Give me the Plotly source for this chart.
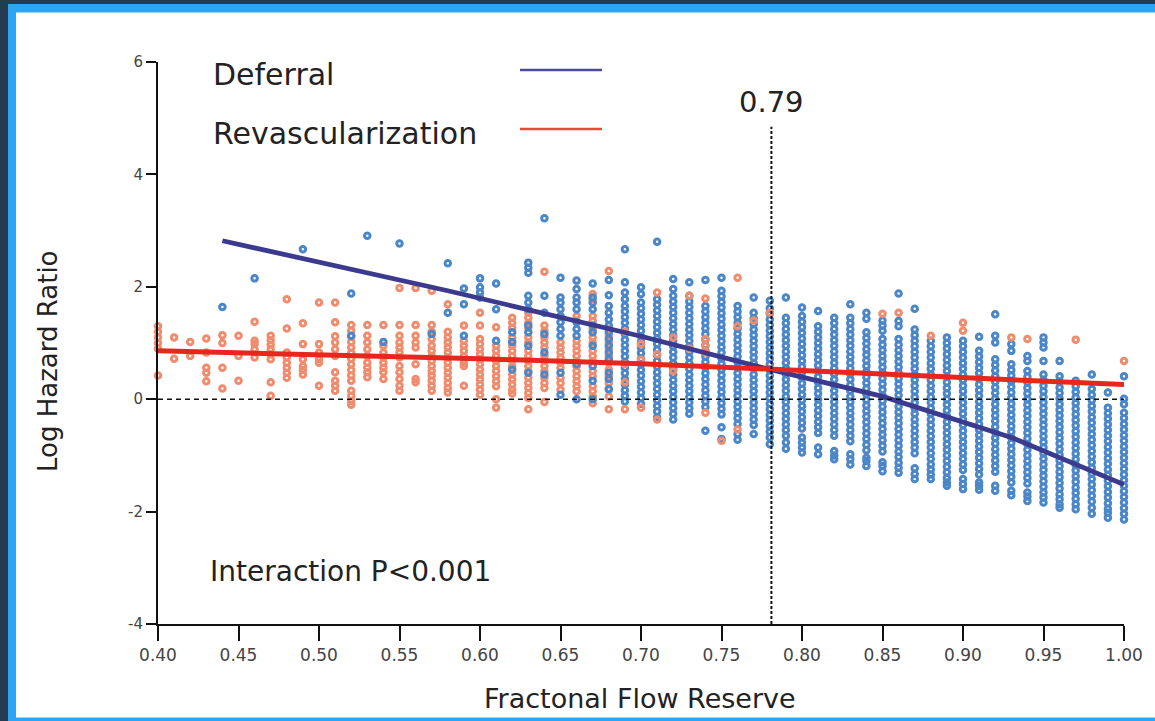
import plotly.graph_objects as go

# ---------------- data ----------------
ffr = [0.40, 0.41, 0.42, 0.43, 0.44, 0.45, 0.46, 0.47, 0.48, 0.49,
       0.50, 0.51, 0.52, 0.53, 0.54, 0.55, 0.56, 0.57, 0.58, 0.59,
       0.60, 0.61, 0.62, 0.63, 0.64, 0.65, 0.66, 0.67, 0.68, 0.69,
       0.70, 0.71, 0.72, 0.73, 0.74, 0.75, 0.76, 0.77, 0.78, 0.79,
       0.80, 0.81, 0.82, 0.83, 0.84, 0.85, 0.86, 0.87, 0.88, 0.89,
       0.90, 0.91, 0.92, 0.93, 0.94, 0.95, 0.96, 0.97, 0.98, 0.99, 1.00]

# Log hazard ratio of each patient, one list per FFR column
deferral_lhr = [
    [], [], [], [], [1.64], [], [2.15], [], [], [2.67],
    [], [], [1.88, 1.13], [2.91], [1.02], [2.77], [], [1.16], [2.42, 1.54], [1.97, 1.69, 1.13],
    [2.15, 1.99, 1.90, 1.81],
    [2.06, 1.60, 1.04],
    [1.19, 1.02, 0.53],
    [2.43, 2.34, 2.25, 1.84, 1.72, 1.60, 1.31, 1.19, 0.95, 0.47],
    [3.22, 1.84, 1.54, 1.16, 0.83, 0.44],
    [2.16, 1.81, 1.72, 1.60, 1.48, 1.37, 1.25, 1.13, 0.47, 0.08],
    [2.11, 1.96, 1.81, 1.72, 1.60, 1.37, 1.25, 1.13, 0.62, 0.00],
    [2.06, 1.81, 1.72, 1.60, 1.31, 1.19, 0.95, 0.59, 0.33, 0.00],
    [2.12, 1.85, 1.66, 1.54, 1.42, 1.31, 1.19, 1.07, 0.95, 0.83, 0.71, 0.47, 0.36, 0.18],
    [2.67, 2.08, 1.90, 1.78, 1.66, 1.56, 1.46, 1.36, 1.26, 1.16, 1.06, 0.96, 0.86, 0.76, 0.66, 0.56,
     0.46, 0.36, 0.26, 0.16, 0.06, -0.04],
    [1.99, 1.87, 1.72, 1.62, 1.52, 1.42, 1.32, 1.22, 1.12, 1.02, 0.92, 0.82, 0.72, 0.62, 0.52, 0.42,
     0.32, 0.22, 0.12, 0.02, -0.08],
    [2.80, 1.78, 1.68, 1.58, 1.48, 1.38, 1.28, 1.18, 1.08, 0.98, 0.88, 0.78, 0.68, 0.58, 0.48, 0.38,
     0.28, 0.18, 0.08, -0.02, -0.12, -0.22, -0.32],
    [2.14, 1.96, 1.84, 1.74, 1.64, 1.54, 1.44, 1.34, 1.24, 1.14, 1.04, 0.94, 0.84, 0.74, 0.64, 0.54,
     0.44, 0.34, 0.24, 0.14, 0.04, -0.06, -0.16, -0.26, -0.36],
    [2.08, 1.84, 1.74, 1.64, 1.54, 1.44, 1.34, 1.24, 1.14, 1.04, 0.94, 0.84, 0.74, 0.64, 0.54, 0.44,
     0.34, 0.24, 0.14, 0.04, -0.06, -0.16, -0.26],
    [2.12, 1.66, 1.56, 1.46, 1.36, 1.26, 1.16, 1.06, 0.96, 0.86, 0.76, 0.66, 0.56, 0.46, 0.36, 0.26,
     0.16, 0.06, -0.04, -0.14, -0.56],
    [2.16, 1.93, 1.83, 1.73, 1.63, 1.53, 1.43, 1.33, 1.23, 1.13, 1.03, 0.93, 0.83, 0.73, 0.63, 0.53,
     0.43, 0.33, 0.23, 0.13, 0.03, -0.07, -0.17, -0.27, -0.50, -0.71],
    [1.66, 1.56, 1.46, 1.36, 1.26, 1.16, 1.06, 0.96, 0.86, 0.76, 0.66, 0.56, 0.46, 0.36, 0.26, 0.16,
     0.06, -0.04, -0.14, -0.24, -0.34, -0.44, -0.62, -0.72],
    [1.81, 1.54, 1.44, 1.34, 1.24, 1.14, 1.04, 0.94, 0.84, 0.74, 0.64, 0.54, 0.44, 0.34, 0.24, 0.14,
     0.04, -0.06, -0.16, -0.26, -0.36, -0.46, -0.62],
    [1.75, 1.62, 1.52, 1.42, 1.32, 1.22, 1.12, 1.02, 0.92, 0.82, 0.72, 0.62, 0.52, 0.42, 0.32, 0.22,
     0.12, 0.02, -0.08, -0.18, -0.28, -0.38, -0.48, -0.58, -0.68, -0.80],
    [1.81, 1.45, 1.35, 1.25, 1.15, 1.05, 0.95, 0.85, 0.75, 0.65, 0.55, 0.45, 0.35, 0.25, 0.15, 0.05,
     -0.05, -0.15, -0.25, -0.35, -0.45, -0.55, -0.65, -0.77, -0.88],
    [1.63, 1.48, 1.38, 1.28, 1.18, 1.08, 0.98, 0.88, 0.78, 0.68, 0.58, 0.48, 0.38, 0.28, 0.18, 0.08,
     -0.02, -0.12, -0.22, -0.32, -0.42, -0.52, -0.68, -0.77, -0.86, -0.95],
    [1.57, 1.30, 1.20, 1.10, 1.00, 0.90, 0.80, 0.70, 0.60, 0.50, 0.40, 0.30, 0.20, 0.10, 0.00, -0.10,
     -0.20, -0.30, -0.40, -0.50, -0.60, -0.86, -0.98],
    [1.45, 1.35, 1.25, 1.15, 1.05, 0.95, 0.85, 0.75, 0.65, 0.55, 0.45, 0.35, 0.25, 0.15, 0.05, -0.05,
     -0.15, -0.25, -0.35, -0.45, -0.55, -0.65, -0.92, -1.00, -1.07],
    [1.69, 1.45, 1.35, 1.25, 1.15, 1.05, 0.95, 0.85, 0.75, 0.65, 0.55, 0.45, 0.35, 0.25, 0.15, 0.05,
     -0.05, -0.15, -0.25, -0.35, -0.45, -0.55, -0.65, -0.75, -0.98, -1.07, -1.16],
    [1.54, 1.43, 1.19, 1.09, 0.99, 0.89, 0.79, 0.69, 0.59, 0.49, 0.39, 0.29, 0.19, 0.09, -0.01, -0.11,
     -0.21, -0.31, -0.41, -0.51, -0.61, -0.71, -0.81, -0.91, -1.04, -1.10, -1.19],
    [1.40, 1.31, 1.22, 1.07, 0.97, 0.87, 0.77, 0.67, 0.57, 0.47, 0.37, 0.27, 0.17, 0.07, -0.03, -0.13,
     -0.23, -0.33, -0.43, -0.53, -0.63, -0.73, -0.83, -0.93, -1.12, -1.19, -1.28],
    [1.88, 1.39, 1.30, 1.07, 0.97, 0.87, 0.77, 0.67, 0.57, 0.47, 0.37, 0.27, 0.17, 0.07, -0.03, -0.13,
     -0.23, -0.33, -0.43, -0.53, -0.63, -0.73, -0.83, -0.93, -1.03, -1.13, -1.22, -1.31],
    [1.61, 1.24, 1.14, 1.04, 0.94, 0.84, 0.74, 0.64, 0.54, 0.44, 0.34, 0.24, 0.14, 0.04, -0.06, -0.16,
     -0.26, -0.36, -0.46, -0.56, -0.66, -0.76, -0.86, -0.96, -1.23, -1.33, -1.42],
    [1.04, 0.94, 0.84, 0.74, 0.64, 0.54, 0.44, 0.34, 0.24, 0.14, 0.04, -0.06, -0.16, -0.26, -0.36, -0.46,
     -0.56, -0.66, -0.76, -0.86, -0.96, -1.06, -1.16, -1.25, -1.34, -1.42],
    [1.10, 1.00, 0.90, 0.80, 0.70, 0.60, 0.50, 0.40, 0.30, 0.20, 0.10, 0.00, -0.10, -0.20, -0.30, -0.40,
     -0.50, -0.60, -0.70, -0.80, -0.90, -1.00, -1.10, -1.20, -1.30, -1.40, -1.48, -1.54],
    [1.04, 0.94, 0.84, 0.74, 0.64, 0.54, 0.44, 0.34, 0.24, 0.14, 0.04, -0.06, -0.16, -0.26, -0.36, -0.46,
     -0.56, -0.66, -0.76, -0.86, -0.96, -1.06, -1.16, -1.26, -1.42, -1.51, -1.60],
    [1.11, 0.86, 0.76, 0.66, 0.56, 0.46, 0.36, 0.26, 0.16, 0.06, -0.04, -0.14, -0.24, -0.34, -0.44, -0.54,
     -0.64, -0.74, -0.84, -0.94, -1.04, -1.14, -1.24, -1.34, -1.48, -1.54, -1.61],
    [1.51, 1.13, 1.01, 0.71, 0.61, 0.51, 0.41, 0.31, 0.21, 0.11, 0.01, -0.09, -0.19, -0.29, -0.39, -0.49,
     -0.59, -0.69, -0.79, -0.89, -0.99, -1.09, -1.19, -1.29, -1.54, -1.63],
    [0.98, 0.86, 0.62, 0.52, 0.42, 0.32, 0.22, 0.12, 0.02, -0.08, -0.18, -0.28, -0.38, -0.48, -0.58, -0.68,
     -0.78, -0.88, -0.98, -1.08, -1.18, -1.28, -1.38, -1.48, -1.63, -1.71],
    [0.77, 0.68, 0.50, 0.40, 0.30, 0.20, 0.10, 0.00, -0.10, -0.20, -0.30, -0.40, -0.50, -0.60, -0.70, -0.80,
     -0.90, -1.00, -1.10, -1.20, -1.30, -1.40, -1.50, -1.66, -1.73, -1.81],
    [1.10, 1.01, 0.92, 0.68, 0.44, 0.34, 0.24, 0.14, 0.04, -0.06, -0.16, -0.26, -0.36, -0.46, -0.56, -0.66,
     -0.76, -0.86, -0.96, -1.06, -1.16, -1.26, -1.36, -1.46, -1.56, -1.66, -1.75, -1.84],
    [0.68, 0.41, 0.31, 0.21, 0.11, 0.01, -0.09, -0.19, -0.29, -0.39, -0.49, -0.59, -0.69, -0.79, -0.89, -0.99,
     -1.09, -1.19, -1.29, -1.39, -1.49, -1.59, -1.69, -1.78, -1.87, -1.93],
    [0.33, 0.23, 0.13, 0.03, -0.07, -0.17, -0.27, -0.37, -0.47, -0.57, -0.67, -0.77, -0.87, -0.97, -1.07, -1.17,
     -1.27, -1.37, -1.47, -1.57, -1.67, -1.77, -1.87, -1.96],
    [0.44, 0.18, 0.08, -0.02, -0.12, -0.22, -0.32, -0.42, -0.52, -0.62, -0.72, -0.82, -0.92, -1.02, -1.12, -1.22,
     -1.32, -1.42, -1.52, -1.62, -1.72, -1.82, -1.93, -2.04],
    [0.12, -0.15, -0.25, -0.35, -0.45, -0.55, -0.65, -0.75, -0.85, -0.95, -1.05, -1.15, -1.25, -1.35, -1.45, -1.55,
     -1.65, -1.75, -1.85, -1.95, -2.02, -2.11],
    [0.41, 0.01, -0.09, -0.24, -0.34, -0.44, -0.54, -0.64, -0.74, -0.84, -0.94, -1.04, -1.14, -1.24, -1.34, -1.44,
     -1.54, -1.64, -1.74, -1.84, -1.94, -2.04, -2.14],
]

revasc_lhr = [
    [1.30, 1.20, 1.10, 1.00, 0.90, 0.42],
    [1.10, 0.72],
    [1.02, 0.77],
    [1.08, 0.83, 0.56, 0.47, 0.32],
    [1.14, 1.00, 0.56, 0.19],
    [1.13, 0.77, 0.33],
    [1.38, 1.04, 0.98, 0.89, 0.74],
    [1.13, 1.05, 0.97, 0.89, 0.80, 0.71, 0.30, 0.06],
    [1.78, 1.26, 0.83, 0.74, 0.65, 0.56, 0.47, 0.38],
    [1.35, 0.98, 0.71, 0.59, 0.52, 0.44],
    [1.72, 0.98, 0.83, 0.71, 0.65, 0.24],
    [1.72, 1.37, 1.12, 1.01, 0.89, 0.77, 0.48, 0.33, 0.24, 0.15],
    [1.32, 1.22, 1.12, 1.02, 0.92, 0.82, 0.72, 0.62, 0.52, 0.42, 0.33, 0.15, 0.06, -0.03, -0.10],
    [1.32, 1.13, 1.01, 0.89, 0.77, 0.65, 0.56, 0.48, 0.39],
    [1.32, 0.95, 0.83, 0.74, 0.65, 0.56, 0.48, 0.36],
    [1.98, 1.32, 1.13, 1.01, 0.92, 0.83, 0.74, 0.59, 0.48, 0.36, 0.24, 0.15],
    [1.98, 1.32, 1.13, 1.01, 0.92, 0.62, 0.36, 0.30],
    [1.93, 1.32, 1.20, 1.07, 0.95, 0.86, 0.77, 0.68, 0.59, 0.50, 0.42, 0.33, 0.24, 0.15],
    [1.69, 1.20, 1.10, 1.01, 0.92, 0.83, 0.74, 0.65, 0.56, 0.47, 0.38, 0.29, 0.20, 0.12],
    [1.31, 1.04, 0.95, 0.86, 0.77, 0.65, 0.59, 0.24],
    [1.54, 1.31, 1.07, 0.98, 0.89, 0.80, 0.71, 0.62, 0.53, 0.44, 0.35, 0.26, 0.17, 0.08],
    [1.28, 0.95, 0.86, 0.77, 0.68, 0.59, 0.50, 0.41, 0.32, 0.23, 0.00, -0.15],
    [1.45, 1.36, 1.27, 1.10, 0.95, 0.86, 0.77, 0.68, 0.59, 0.44, 0.35, 0.26, 0.17, 0.10],
    [1.54, 1.45, 1.36, 1.27, 1.10, 1.01, 0.86, 0.77, 0.68, 0.59, 0.50, 0.38, 0.29, 0.20, 0.11, 0.02, -0.18],
    [2.27, 1.31, 1.22, 1.10, 1.01, 0.92, 0.77, 0.68, 0.59, 0.50, 0.38, 0.29, 0.20, -0.05],
    [1.01, 0.92, 0.83, 0.74, 0.65, 0.56, 0.38, 0.29, 0.17],
    [1.48, 1.40, 1.04, 0.95, 0.86, 0.77, 0.68, 0.59, 0.50, 0.41, 0.32, 0.23, 0.14],
    [1.87, 1.78, 1.48, 1.39, 1.25, 1.10, 1.01, 0.86, 0.77, 0.68, 0.50, 0.41, 0.23, 0.14, 0.05, -0.07],
    [2.28, 1.25, 1.13, 1.01, 0.89, 0.77, 0.65, 0.53, 0.41, 0.29, 0.17, 0.05, -0.18],
    [1.20, 0.62, 0.30, -0.18],
    [0.98, 0.70, -0.15],
    [1.90, 0.80, -0.36],
    [1.10, 0.50],
    [1.84, 0.90],
    [1.79, 1.07, 0.95, 0.83, -0.24],
    [-0.74],
    [2.16, 1.30, -0.54],
    [1.40],
    [1.54],
    [], [], [], [], [], [],
    [1.52], [1.54], [], [1.13], [],
    [1.36, 1.22], [], [], [1.10], [1.07], [], [], [1.06], [], [], [0.68],
]

# fitted curves (log hazard ratio vs FFR)
deferral_fit_x = [0.44, 0.58, 0.70, 0.78, 0.85, 0.93, 1.00]
deferral_fit_y = [2.82, 1.93, 1.12, 0.53, 0.05, -0.68, -1.52]
revasc_fit_x = [0.40, 0.50, 0.60, 0.70, 0.78, 0.85, 0.92, 1.00]
revasc_fit_y = [0.86, 0.80, 0.72, 0.63, 0.54, 0.45, 0.36, 0.26]

cutoff_ffr = 0.781
cutoff_label = "0.79"

x_tick_vals = [0.40, 0.45, 0.50, 0.55, 0.60, 0.65, 0.70, 0.75, 0.80, 0.85, 0.90, 0.95, 1.00]
x_tick_text = ["0.40", "0.45", "0.50", "0.55", "0.60", "0.65", "0.70", "0.75", "0.80",
               "0.85", "0.90", "0.95", "1.00"]
y_tick_vals = [-4, -2, 0, 2, 4, 6]
y_tick_text = ["-4", "-2", "0", "2", "4", "6"]

# ---------------- build ----------------
BLUE_PT = "#4a86c8"
ORANGE_PT = "#f08c6e"
BLUE_LINE = "#3b3a8e"
RED_LINE = "#e8261e"
NAVY_BG = "#263a52"
FONT = "DejaVu Sans"


def flatten(cols, lists, keep):
    xs, ys = [], []
    for xv, vals in zip(cols, lists):
        if keep(xv):
            for v in vals:
                xs.append(xv)
                ys.append(v)
    return xs, ys


def pts(xs, ys, color, name):
    return go.Scatter(
        x=xs, y=ys, mode="markers", name=name, showlegend=False, cliponaxis=False,
        marker=dict(symbol="circle-open", size=5.5, color=color, line=dict(width=3, color=color)),
        hoverinfo="skip",
    )


fig = go.Figure()
bx_r, by_r = flatten(ffr, deferral_lhr, lambda v: v >= 0.685)
bx_l, by_l = flatten(ffr, deferral_lhr, lambda v: v < 0.685)
ox, oy = flatten(ffr, revasc_lhr, lambda v: True)

fig.add_trace(pts(bx_r, by_r, BLUE_PT, "Deferral"))
fig.add_trace(pts(ox, oy, ORANGE_PT, "Revascularization"))
fig.add_trace(pts(bx_l, by_l, BLUE_PT, "Deferral"))

fig.add_trace(go.Scatter(x=deferral_fit_x, y=deferral_fit_y, mode="lines", showlegend=False,
                         line=dict(color=BLUE_LINE, width=4.8), hoverinfo="skip"))
fig.add_trace(go.Scatter(x=revasc_fit_x, y=revasc_fit_y, mode="lines", showlegend=False,
                         line=dict(color=RED_LINE, width=5), hoverinfo="skip"))

# plot area occupies px 158..1124 horizontally, 62..624 vertically
L, R, T, B = 158, 31, 62, 97
W, H = 1155, 721
PW, PH = W - L - R, H - T - B


def px(xp):
    return (xp - L) / PW


def py(yp):
    return (H - B - yp) / PH


shapes = [
    # slide frame
    dict(type="rect", xref="paper", yref="paper", x0=px(8), x1=px(1175), y0=py(740), y1=py(4),
         fillcolor="#2ea4f4", line=dict(width=0), layer="below"),
    dict(type="rect", xref="paper", yref="paper", x0=px(16), x1=px(1175), y0=py(717.5), y1=py(12.5),
         fillcolor="white", line=dict(width=0), layer="below"),
    # reference lines
    dict(type="line", xref="x", yref="y", x0=0.40, x1=1.00, y0=0, y1=0,
         line=dict(color="#111111", width=1.6, dash="5px,4px"), layer="above"),
    dict(type="line", xref="x", yref="y", x0=cutoff_ffr, x1=cutoff_ffr, y0=-4, y1=4.85,
         line=dict(color="#111111", width=2, dash="3px,2px"), layer="above"),
    # legend swatches
    dict(type="line", xref="paper", yref="paper", x0=px(520), x1=px(602), y0=py(70), y1=py(70),
         line=dict(color="#4a4a9e", width=2.5)),
    dict(type="line", xref="paper", yref="paper", x0=px(520), x1=px(602), y0=py(129), y1=py(129),
         line=dict(color="#e8493a", width=2.5)),
]

annotations = [
    dict(text="Deferral", xref="paper", yref="paper", x=px(211), y=py(75), xanchor="left",
         yanchor="middle", showarrow=False, font=dict(family=FONT, size=30, color="#222222")),
    dict(text="Revascularization", xref="paper", yref="paper", x=px(211), y=py(133), xanchor="left",
         yanchor="middle", showarrow=False, font=dict(family=FONT, size=30, color="#222222")),
    dict(text=cutoff_label, xref="x", yref="y", x=cutoff_ffr, y=5.28, xanchor="center",
         yanchor="middle", showarrow=False, font=dict(family=FONT, size=29, color="#222222")),
    dict(text="Interaction P<0.001", xref="paper", yref="paper", x=px(208), y=py(571), xanchor="left",
         yanchor="middle", showarrow=False, font=dict(family=FONT, size=28, color="#222222")),
    dict(text="Fractonal Flow Reserve", xref="paper", yref="paper", x=px(640), y=py(698),
         xanchor="center", yanchor="middle", showarrow=False,
         font=dict(family=FONT, size=27, color="#222222")),
    dict(text="Log Hazard Ratio", xref="paper", yref="paper", x=px(48), y=py(361), textangle=-90,
         xanchor="center", yanchor="middle", showarrow=False,
         font=dict(family=FONT, size=26, color="#222222")),
]

fig.update_layout(
    width=W, height=H, autosize=False,
    margin=dict(l=L, r=R, t=T, b=B, pad=0),
    paper_bgcolor=NAVY_BG,
    plot_bgcolor="rgba(0,0,0,0)",
    showlegend=False,
    shapes=shapes,
    annotations=annotations,
    xaxis=dict(range=[0.40, 1.00], tickvals=x_tick_vals, ticktext=x_tick_text,
               showline=True, linecolor="#111111", linewidth=2, mirror=False,
               ticks="outside", ticklen=15, tickwidth=2, tickcolor="#111111",
               tickfont=dict(family=FONT, size=17, color="#444444"),
               showgrid=False, zeroline=False, fixedrange=True),
    yaxis=dict(range=[-4, 6], tickvals=y_tick_vals, ticktext=y_tick_text,
               showline=True, linecolor="#111111", linewidth=2,
               ticks="outside", ticklen=10, tickwidth=2, tickcolor="#111111",
               tickfont=dict(family=FONT, size=15, color="#444444"),
               showgrid=False, zeroline=False, fixedrange=True),
)

# remove the default page margin so the figure sits at the window's top-left corner
page_fix = ("document.body.style.margin='0';document.body.style.overflow='hidden';"
            "document.body.style.background='" + NAVY_BG + "';")

fig.write_html("out.html", post_script=page_fix, config={"displayModeBar": False})
